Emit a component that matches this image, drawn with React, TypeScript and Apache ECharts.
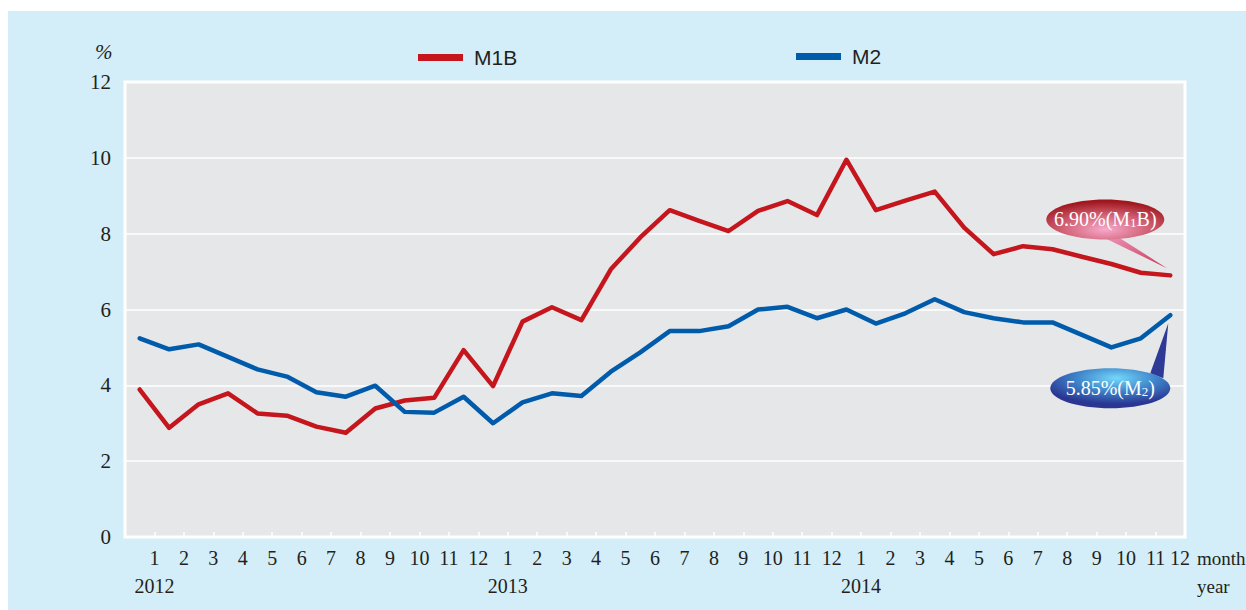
import React, { useEffect, useRef } from "react";
import * as echarts from "echarts";

const months: string[] = [
  "2012-01", "2012-02", "2012-03", "2012-04", "2012-05", "2012-06",
  "2012-07", "2012-08", "2012-09", "2012-10", "2012-11", "2012-12",
  "2013-01", "2013-02", "2013-03", "2013-04", "2013-05", "2013-06",
  "2013-07", "2013-08", "2013-09", "2013-10", "2013-11", "2013-12",
  "2014-01", "2014-02", "2014-03", "2014-04", "2014-05", "2014-06",
  "2014-07", "2014-08", "2014-09", "2014-10", "2014-11", "2014-12",
];

const monthTicks: string[] = [
  "1", "2", "3", "4", "5", "6", "7", "8", "9", "10", "11", "12",
  "1", "2", "3", "4", "5", "6", "7", "8", "9", "10", "11", "12",
  "1", "2", "3", "4", "5", "6", "7", "8", "9", "10", "11", "12",
];

const yearTicks: string[] = [
  "2012", "", "", "", "", "", "", "", "", "", "", "",
  "2013", "", "", "", "", "", "", "", "", "", "", "",
  "2014", "", "", "", "", "", "", "", "", "", "", "",
];

const m1b: number[] = [
  3.89, 2.88, 3.5, 3.79, 3.26, 3.2, 2.91, 2.75, 3.39, 3.6, 3.67, 4.93,
  3.98, 5.68, 6.06, 5.72, 7.06, 7.9, 8.62, 8.34, 8.07, 8.6, 8.86, 8.49,
  9.95, 8.62, 8.87, 9.11, 8.16, 7.46, 7.67, 7.59, 7.39, 7.2, 6.97, 6.9,
];

const m2: number[] = [
  5.24, 4.95, 5.08, 4.75, 4.42, 4.23, 3.82, 3.7, 3.99, 3.3, 3.28, 3.7,
  3.0, 3.55, 3.79, 3.72, 4.36, 4.87, 5.43, 5.43, 5.56, 6.0, 6.07, 5.77,
  6.0, 5.63, 5.9, 6.27, 5.93, 5.77, 5.66, 5.66, 5.33, 5.0, 5.24, 5.85,
];

const yTicks = { min: 0, max: 12, interval: 2 };

const SERIF = "'Liberation Serif', 'Times New Roman', serif";
const SANS = "'Liberation Sans', Arial, sans-serif";
const INK = "#231f20";
const RED = "#c4161c";
const BLUE = "#005bab";

export default function App() {
  const ref = useRef<HTMLDivElement>(null);

  useEffect(() => {
    if (!ref.current) return;
    const chart = echarts.init(ref.current, undefined, { renderer: "svg" });
    const option: any = {
      animation: false,
      backgroundColor: "transparent",
      grid: {
        left: 125,
        right: 61,
        top: 82,
        bottom: 73,
        show: true,
        backgroundColor: "#e6e7e9",
        borderColor: "#ffffff",
        borderWidth: 3,
      },
      legend: [
        {
          left: 413,
          top: 42,
          icon: "rect",
          itemWidth: 45,
          itemHeight: 7,
          data: ["M1B"],
          textStyle: { fontFamily: SANS, fontSize: 21, color: INK, padding: [0, 0, 0, 6] },
        },
        {
          left: 791,
          top: 41,
          icon: "rect",
          itemWidth: 45,
          itemHeight: 7,
          data: ["M2"],
          textStyle: { fontFamily: SANS, fontSize: 21, color: INK, padding: [0, 0, 0, 6] },
        },
      ],
      xAxis: [
        {
          type: "category",
          data: months,
          boundaryGap: true,
          show: false,
        },
        {
          type: "value",
          position: "bottom",
          min: 0,
          max: 36,
          interval: 1,
          axisLine: { show: false },
          splitLine: { show: false },
          axisTick: {
            show: true,
            inside: true,
            length: 5,
            lineStyle: { color: "#ffffff", width: 1.5 },
          },
          axisLabel: {
            margin: 7,
            fontFamily: SERIF,
            fontSize: 20,
            color: INK,
            lineHeight: 28,
            showMinLabel: true,
            showMaxLabel: true,
            rich: {
              r: { fontFamily: SERIF, fontSize: 20, color: INK, lineHeight: 28, padding: [0, 10, 0, 0] },
            },
            formatter: (v: number) => {
              if (v < 1) return "";
              const i = Math.round(v) - 1;
              const m = monthTicks[i];
              const y = yearTicks[i];
              if (i === monthTicks.length - 1) return "{r|" + m + "}";
              return y ? m + "\n" + y : m;
            },
          },
        },
      ],
      yAxis: {
        type: "value",
        min: yTicks.min,
        max: yTicks.max,
        interval: yTicks.interval,
        axisLine: { show: false },
        axisTick: { show: false },
        axisLabel: { margin: 14, fontFamily: SERIF, fontSize: 21, color: INK },
        splitLine: { lineStyle: { color: "#ffffff", width: 1.5 } },
      },
      series: [
        {
          name: "M1B",
          type: "line",
          data: m1b,
          xAxisIndex: 0,
          symbol: "none",
          itemStyle: { color: RED },
          lineStyle: { color: RED, width: 4.5, join: "round", cap: "round" },
          z: 3,
        },
        {
          name: "M2",
          type: "line",
          data: m2,
          xAxisIndex: 0,
          symbol: "none",
          itemStyle: { color: BLUE },
          lineStyle: { color: BLUE, width: 4.5, join: "round", cap: "round" },
          z: 3,
        },
      ],
    };
    chart.setOption(option);

    const last = months.length - 1;
    const pr = chart.convertToPixel({ xAxisIndex: 0, yAxisIndex: 0 }, [last, m1b[last]]) as number[];
    const pb = chart.convertToPixel({ xAxisIndex: 0, yAxisIndex: 0 }, [last, m2[last]]) as number[];

    const rcx = pr[0] - 65;
    const rcy = pr[1] - 56;
    const bcx = pb[0] - 60;
    const bcy = pb[1] + 73;

    const redFill = new echarts.graphic.RadialGradient(0.5, 0.75, 0.7, [
      { offset: 0, color: "#f7a9cd" },
      { offset: 0.5, color: "#d36478" },
      { offset: 1, color: "#a0161d" },
    ]);
    const blueFill = new echarts.graphic.RadialGradient(0.55, 0.25, 0.65, [
      { offset: 0, color: "#74d8fa" },
      { offset: 0.5, color: "#3f86cc" },
      { offset: 1, color: "#2a3692" },
    ]);

    const rich = (size: number) => ({
      a: { fontFamily: SERIF, fontSize: size, fill: "#ffffff", lineHeight: 24, verticalAlign: "middle" },
      s: { fontFamily: SERIF, fontSize: 13, fill: "#ffffff", lineHeight: 24, verticalAlign: "bottom", padding: [0, 0, 2, 0] },
    });

    chart.setOption({
      graphic: [
        {
          type: "text",
          left: 95,
          top: 41,
          style: { text: "%", font: `italic 21px ${SERIF}`, fill: INK },
        },
        {
          type: "text",
          x: 1197,
          y: 558,
          style: { text: "month", font: `19px ${SERIF}`, fill: INK, align: "left", verticalAlign: "middle" },
        },
        {
          type: "text",
          x: 1197,
          y: 586,
          style: { text: "year", font: `19px ${SERIF}`, fill: INK, align: "left", verticalAlign: "middle" },
        },
        {
          type: "polygon",
          z: 10,
          shape: { points: [[rcx - 6, rcy + 16], [rcx + 12, rcy + 17], [pr[0] - 3, pr[1] - 7]] },
          style: {
            fill: new echarts.graphic.LinearGradient(0, 0, 1, 1, [
              { offset: 0, color: "#f19ac0" },
              { offset: 1, color: "#c43a55" },
            ]),
          },
        },
        {
          type: "ellipse",
          z: 11,
          shape: { cx: rcx, cy: rcy, rx: 59, ry: 20 },
          style: { fill: redFill },
        },
        {
          type: "text",
          z: 12,
          x: rcx,
          y: rcy,
          style: {
            text: "{a|6.90%(M}{s|1}{a|B)}",
            rich: rich(20),
            align: "center",
            verticalAlign: "middle",
          },
        },
        {
          type: "polygon",
          z: 10,
          shape: { points: [[bcx + 40, bcy - 15], [bcx + 53, bcy - 10], [pb[0] - 2, pb[1] + 8]] },
          style: { fill: "#2e3a96" },
        },
        {
          type: "ellipse",
          z: 11,
          shape: { cx: bcx, cy: bcy, rx: 60, ry: 20 },
          style: { fill: blueFill },
        },
        {
          type: "text",
          z: 12,
          x: bcx,
          y: bcy,
          style: {
            text: "{a|5.85%(M}{s|2}{a|)}",
            rich: rich(20),
            align: "center",
            verticalAlign: "middle",
          },
        },
      ],
    });

    return () => chart.dispose();
  }, []);

  return (
    <div style={{ position: "absolute", left: 0, top: 0, width: 1246, height: 610, background: "#ffffff" }}>
      <div style={{ position: "absolute", left: 8, top: 11, width: 1238, height: 599, background: "#d3eef9" }} />
      <div ref={ref} style={{ position: "absolute", left: 0, top: 0, width: 1246, height: 610 }} />
    </div>
  );
}
